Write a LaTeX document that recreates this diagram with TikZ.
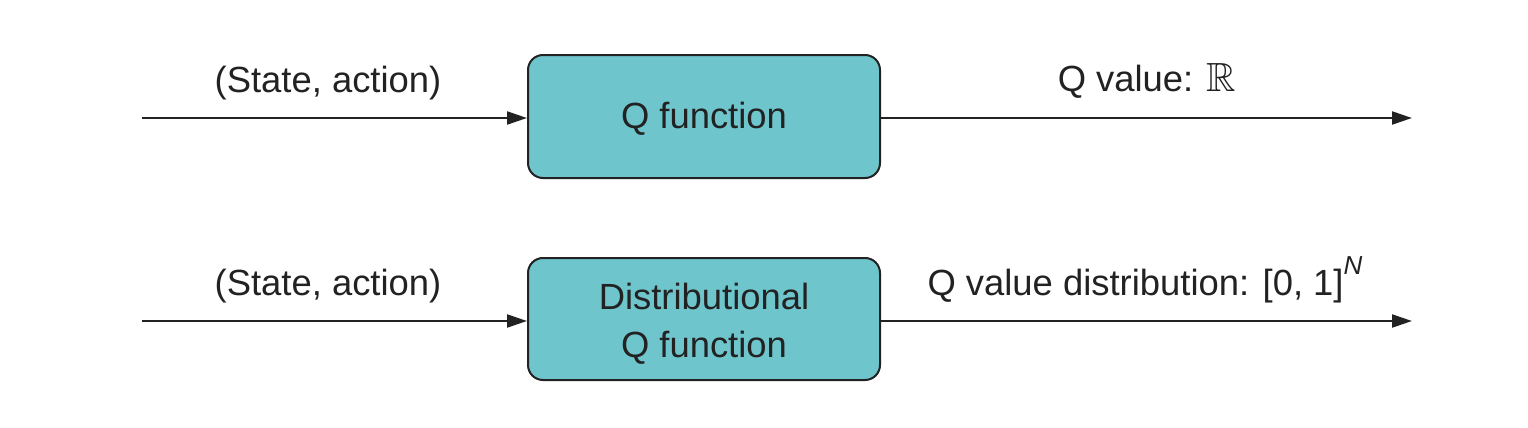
\documentclass[tikz,border=0pt]{standalone}
\usepackage{amssymb}
\usepackage{fontspec}
\setmainfont{Liberation Sans}
\usetikzlibrary{arrows.meta}
\definecolor{boxfill}{HTML}{6FC5CC}
\definecolor{linecol}{HTML}{222222}
\begin{document}
\begin{tikzpicture}[x=0.5pt,y=-0.5pt,
  font=\fontsize{18.2}{24}\selectfont,
  qbox/.style={draw=linecol, line width=1pt, fill=boxfill, rounded corners=7.5pt,
    minimum width=176pt, inner sep=0pt},
  arr/.style={draw=linecol, line width=1.1pt, -{Triangle[length=10pt,width=6.5pt]}},
  lbl/.style={anchor=base, inner sep=0pt, text=linecol}]
\useasboundingbox (0,0) rectangle (1528,428);
\node[qbox, minimum height=61.5pt] (q1) at (704,116.5) {};
\node[qbox, minimum height=61pt] (q2) at (704,319) {};
\node[lbl] (t1) at (704,128) {Q function};
\node[lbl] (t2a) at (704,309) {Distributional};
\node[lbl] (t2b) at (704,357) {Q function};
\coordinate (s1) at (142,118);
\coordinate (e1) at (1412,118);
\coordinate (s2) at (142,321);
\coordinate (e2) at (1412,321);
\draw[arr] (s1) -- (q1.west |- s1);
\draw[arr] (q1.east |- e1) -- (e1);
\draw[arr] (s2) -- (q2.west |- s2);
\draw[arr] (q2.east |- e2) -- (e2);
\node[lbl] (l1) at (328,92) {(State, action)};
\node[lbl] (r1) at (1147,91) {Q value: \scalebox{1.12}{$\mathbb{R}$}};
\node[lbl] (l2) at (328,295) {(State, action)};
\node[lbl] (r2) at (1145,295) {Q value distribution: [0, 1]\raisebox{0.55em}{\fontsize{13}{13}\selectfont\itshape N}};
\end{tikzpicture}
\end{document}
